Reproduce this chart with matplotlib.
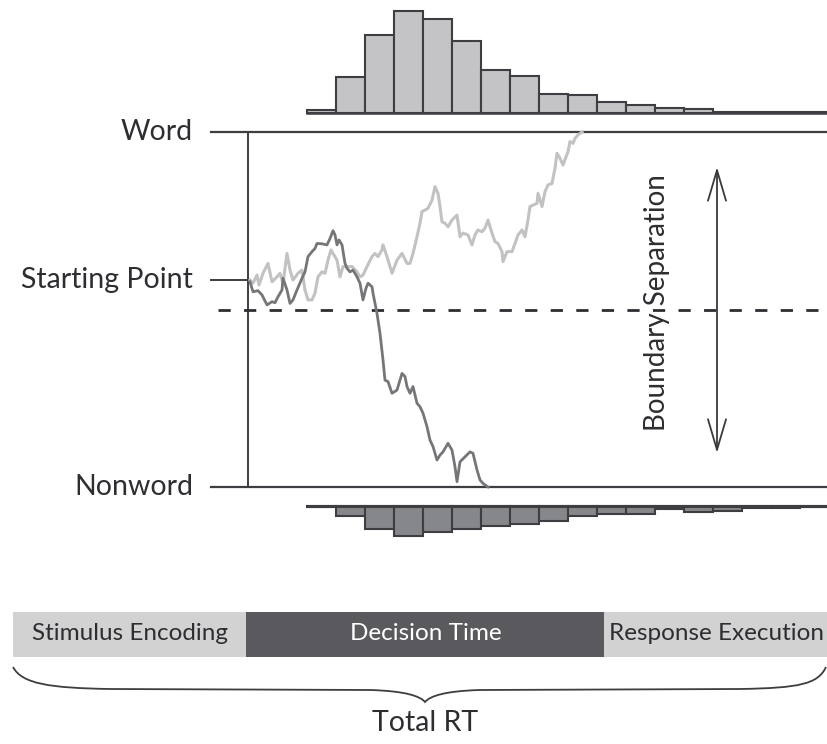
import numpy as np
import matplotlib.pyplot as plt
from matplotlib.path import Path
from matplotlib.patches import PathPatch, Rectangle

# ---- data --------------------------------------------------------------
# evidence in % of boundary separation (0 = Nonword, 100 = Word), time in steps
start_point = 58.3
bias_line = 50.0

nonword_t = [2, 5, 10, 14, 19, 24, 27, 30, 34, 35, 39, 42, 45, 49, 54, 57, 60, 64, 67,
             69, 74, 79, 82, 85, 87, 89, 91, 94, 97, 99, 102, 105, 109, 112, 115, 118,
             120, 124, 125, 129, 132, 135, 137, 140, 144, 149, 154, 157, 159, 162, 165,
             169, 172, 175, 179, 182, 185, 189, 192, 195, 200, 204, 207, 209, 212, 217,
             222, 225, 229, 232, 235, 240]
nonword_ev = [57.8, 55.0, 55.3, 54.1, 51.3, 52.2, 51.9, 53.6, 55.5, 58.8, 55.5, 51.7, 52.7,
              55.5, 58.8, 60.6, 64.9, 66.3, 67.2, 68.6, 68.5, 68.2, 70.0, 72.2, 71.0, 68.2,
              69.6, 68.2, 63.0, 61.6, 60.6, 61.1, 59.2, 57.4, 52.7, 56.0, 57.4, 56.4, 54.6,
              48.9, 43.3, 35.8, 30.1, 29.7, 26.4, 27.3, 32.0, 31.1, 28.3, 26.4, 28.3, 23.6,
              22.6, 20.8, 17.0, 13.2, 11.4, 7.6, 9.0, 9.9, 12.3, 10.4, 5.7, 1.5, 7.1, 8.5,
              9.9, 9.5, 4.8, 2.0, 1.0, 0.0]

word_t = [2, 5, 9, 11, 15, 20, 24, 29, 32, 35, 39, 42, 45, 50, 54, 57, 60, 64, 67, 70,
          74, 77, 80, 83, 85, 89, 92, 95, 99, 104, 109, 112, 115, 119, 124, 127, 130, 134,
          135, 139, 144, 149, 154, 159, 162, 165, 169, 172, 174, 177, 180, 184, 187, 190,
          192, 194, 197, 200, 204, 209, 212, 215, 220, 224, 227, 230, 234, 237, 240, 244,
          247, 250, 254, 255, 259, 264, 267, 270, 274, 277, 280, 282, 285, 289, 290, 294,
          297, 300, 304, 307, 309, 312, 315, 320, 322, 325, 327, 330, 334]
word_ev = [58.3, 57.4, 59.7, 56.9, 60.2, 63.0, 57.8, 59.2, 60.2, 57.4, 65.8, 61.1, 58.3,
           60.2, 61.1, 55.5, 52.7, 52.7, 54.6, 59.2, 60.6, 60.2, 63.9, 66.8, 65.8, 63.9,
           59.2, 62.1, 62.1, 62.1, 60.6, 59.2, 59.7, 62.1, 64.9, 65.8, 64.9, 66.8, 68.2,
           64.9, 60.2, 63.9, 65.8, 63.0, 63.0, 65.8, 70.5, 74.3, 77.6, 78.0, 78.5, 80.8,
           84.6, 82.7, 79.0, 74.7, 74.3, 73.3, 75.2, 76.6, 70.5, 71.5, 71.0, 68.2, 71.0,
           72.4, 71.9, 72.9, 75.2, 71.5, 69.1, 68.6, 66.3, 63.5, 66.3, 66.3, 68.6, 71.0,
           72.4, 70.5, 75.2, 79.0, 79.4, 79.9, 82.7, 79.0, 83.2, 85.1, 85.5, 89.8, 94.0,
           92.6, 90.7, 94.5, 97.3, 96.8, 98.2, 99.2, 100.0]

# RT histograms (18 bins, relative frequency)
word_counts = [3, 36, 78, 102, 94, 72, 43, 37, 19, 18, 11, 8, 5, 4, 1, 1, 1, 1]
nonword_counts = [1, 10, 23, 30, 26, 23, 20, 18, 15, 10, 8, 8, 3, 6, 5, 2, 2, 1]

stages = ['Stimulus Encoding', 'Decision Time', 'Response Execution']

# ---- layout (pixel space) ------------------------------------------------
W, H = 828, 744
x0 = 248           # decision onset
y_word, y_non = 132, 487
scale = (y_non - y_word) / 100.0
hist_x0, bin_w = 307, 29
top_base, bot_base = 113, 506

def ev_y(ev):
    return y_non - scale * np.asarray(ev)

ink = '#3e3e42'
txt = '#2e2e32'
font = 'Lato'

fig = plt.figure(figsize=(W / 100, H / 100), dpi=100)
ax = fig.add_axes([0, 0, 1, 1])
ax.set_xlim(0, W)
ax.set_ylim(H, 0)
ax.axis('off')

# boundaries and starting point
ax.plot([211, W], [y_word, y_word], color=ink, lw=1.6)
ax.plot([211, W], [y_non, y_non], color=ink, lw=1.6)
ax.plot([211, x0], [ev_y(start_point)] * 2, color=ink, lw=1.4)
ax.plot([x0, x0], [y_word, y_non], color=ink, lw=1.4)
ax.plot([218, W], [ev_y(bias_line)] * 2, color='#2e2e32', lw=2.0,
        dashes=(4.4, 4.8))

# sample paths
ax.plot(x0 + np.array(word_t), ev_y(word_ev), color='#c2c2c2', lw=2.2,
        solid_joinstyle='round')
ax.plot(x0 + np.array(nonword_t), ev_y(nonword_ev), color='#76767a', lw=2.0,
        solid_joinstyle='round')

# histograms
edges = hist_x0 + bin_w * np.arange(len(word_counts))
ax.bar(edges, -np.array(word_counts), bottom=top_base, width=bin_w, align='edge',
       color='#c4c4c6', edgecolor=ink, linewidth=1.5)
ax.plot([hist_x0, W], [top_base, top_base], color=ink, lw=1.8)
ax.bar(edges, np.array(nonword_counts), bottom=bot_base, width=bin_w, align='edge',
       color='#86878b', edgecolor=ink, linewidth=1.5)
ax.plot([hist_x0, W], [bot_base, bot_base], color=ink, lw=2.2)

# labels
lab = dict(ha='right', va='center', fontsize=20.5, color=txt, family=font)
ax.text(193, y_word, 'Word', **lab)
ax.text(193, ev_y(start_point), 'Starting Point', **lab)
ax.text(193, y_non, 'Nonword', **lab)

# boundary separation arrow
ax.annotate('', xy=(717, 167), xytext=(717, 453),
            arrowprops=dict(arrowstyle='<->,head_length=2.2,head_width=0.65',
                            color='#3a3a3e', lw=1.3, shrinkA=0, shrinkB=0))
ax.text(657, 303, 'Boundary Separation', rotation=90, ha='center', va='center',
        fontsize=20, color=txt, family=font)

# stage bar
bounds = [13, 246, 604, W]
fills = ['#d2d2d3', '#5a5a5e', '#d2d2d3']
tcols = [txt, 'white', txt]
for name, a, b, fc, tc in zip(stages, bounds[:-1], bounds[1:], fills, tcols):
    ax.add_patch(Rectangle((a, 612), b - a, 45, facecolor=fc, edgecolor='none'))
    ax.text((a + b) / 2 + 1, 634, name, ha='center', va='center', fontsize=17.5,
            color=tc, family=font)

# brace
mid = 425
verts = [(13, 667), (22, 684), (50, 688), (110, 689),
         (370, 690), (405, 691), (420, 696), (mid, 702),
         (430, 696), (445, 691), (480, 690),
         (740, 689), (800, 688), (818, 684), (826, 667)]
codes = [Path.MOVETO, Path.CURVE4, Path.CURVE4, Path.CURVE4,
         Path.LINETO, Path.CURVE4, Path.CURVE4, Path.CURVE4,
         Path.CURVE4, Path.CURVE4, Path.CURVE4,
         Path.LINETO, Path.CURVE4, Path.CURVE4, Path.CURVE4]
ax.add_patch(PathPatch(Path(verts, codes), facecolor='none', edgecolor=ink, lw=1.3))
ax.text(mid, 723, 'Total RT', ha='center', va='center', fontsize=20.5,
        color=txt, family=font)

fig.savefig('out.png', dpi=100)
